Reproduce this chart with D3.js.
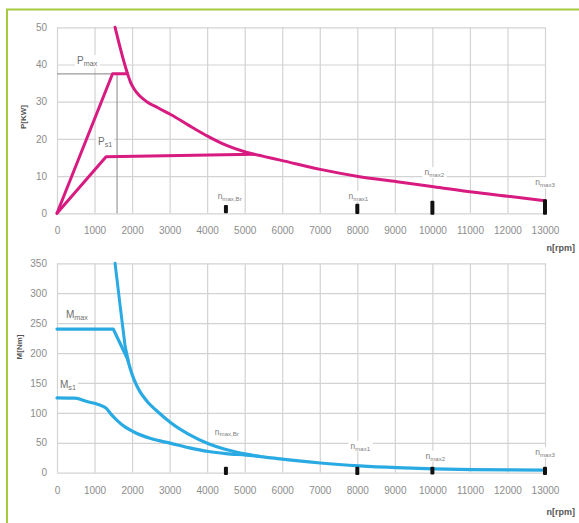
<!DOCTYPE html>
<html><head><meta charset="utf-8">
<script src="https://cdn.jsdelivr.net/npm/d3@7"></script>
<style>
html,body{margin:0;padding:0;background:#fff;}
svg{display:block;font-family:"Liberation Sans",Arial,sans-serif;}
</style></head>
<body><svg id="c" width="579" height="523"></svg>
<script>
// ---- data ----
const rpmTicks = [0,1000,2000,3000,4000,5000,6000,7000,8000,9000,10000,11000,12000,13000];
const pTicks = [0,10,20,30,40,50];
const mTicks = [0,50,100,150,200,250,300,350];

// power curves [rpm, kW]
const pMaxRise = [[0,0],[1480,37.5],[1880,37.5]];
const pEnvelope = [[1547,50],[1650,45.8],[1760,41.6],[1884,37.4],[1960,35.2],[2050,33.5],[2200,31.6],[2392,30],[2700,28.3],[3040,26.5],[3500,23.7],[4035,20.6],[4500,18.3],[5040,16.4],[5500,15.3],[5947,14.3],[7013,11.8],[8062,9.85],[9058,8.5],[10035,7.15],[11058,5.7],[12080,4.5],[13000,3.4]];
const pS1 = [[0,0],[1307,15.2],[5250,15.9]];
const pMaxBox = [[0,37.5],[1600,37.5],[1600,0]];

// torque curves [rpm, Nm]
const mMaxConst = [[0,240],[1500,240],[1880,190]];
const mMaxDecay = [[1880,190],[1960,172],[2050,156],[2213,135],[2392,120],[2700,101],[3040,83],[3500,64.5],[4035,48.5],[4500,38.8],[5040,31],[5947,23],[7013,16.2],[8062,11.5],[9058,8.5],[10035,6.5],[11058,5.2],[12080,4.6],[13000,4.3]];
const mSteep = [[1547,350],[1680,280],[1813,212],[1902,186]];
const mS1 = [[0,125],[480,124.5],[800,119],[1100,114],[1307,108],[1450,97],[1591,88],[1800,77],[2035,68.5],[2500,57],[3040,49],[3500,42],[4035,35.5],[4500,32],[5040,29.5],[5400,27.5]];

// speed markers
const markerRpm = [4500, 8000, 10000, 13000];
const markerSub = ["max,Br", "max1", "max2", "max3"];
const markerTopHi = [2.2, 2.6, 3.4, 3.8];
const markerTopLo = [0, -0.2, -0.4, -0.4];
const markerBotHi = [10, 10, 10, 10];
const markerBotLo = [-4, -4, -3, -4];
const markerLblTopRpm = [4600, 8030, 10050, 13000];
const markerLblTopP = [4.4, 4.4, 10.8, 8.1];
const markerLblBotRpm = [4525, 8080, 10080, 13000];
const markerLblBotM = [67, 43.5, 26.7, 33];

// ---- drawing ----
const svg = d3.select("#c");
const MAG = "#d81b80", CYAN = "#2aaae2", GRID = "#d3d3d3";

// frame
svg.append("line").attr("x1",6).attr("x2",579).attr("y1",9.5).attr("y2",9.5).attr("stroke","#a6c93e").attr("stroke-width",2);
svg.append("line").attr("x1",7).attr("x2",7).attr("y1",9).attr("y2",523).attr("stroke","#a6c93e").attr("stroke-width",2);

const x = d3.scaleLinear().domain([0,13000]).range([57,545]);
const yP = d3.scaleLinear().domain([0,50]).range([213.3,27.3]);
const yM = d3.scaleLinear().domain([0,350]).range([472.7,263.3]);

function grid(y, yTicks, yDomTop) {
  const g = svg.append("g");
  const plotW = x(13000) - x(0);
  const plotH = y(0) - y(yDomTop);
  const ax = g.append("g").attr("transform", `translate(0,${y(0)})`)
    .call(d3.axisBottom(x).tickValues(rpmTicks).tickSize(-plotH).tickPadding(14).tickFormat(d3.format("d")));
  const ay = g.append("g").attr("transform", `translate(${x(0)},0)`)
    .call(d3.axisLeft(y).tickValues(yTicks).tickSize(-plotW).tickPadding(10).tickFormat(d3.format("d")));
  [ax, ay].forEach(a => {
    a.select(".domain").remove();
    a.selectAll(".tick line").attr("stroke", GRID).attr("stroke-width", 1.2);
    a.selectAll(".tick text").attr("fill", "#8c8c8c").attr("font-size", 10);
  });
}
grid(yP, pTicks, 50);
grid(yM, mTicks, 350);

function line(y) { return d3.line().x(d => x(d[0])).y(d => y(d[1])); }

// Pmax box
svg.append("path").datum(pMaxBox).attr("d", line(yP)).attr("fill","none").attr("stroke","#9a9a9a").attr("stroke-width",1.2);

// annotated label helper
function label(px, py, main, sub, size, anchor, color) {
  const g = svg.append("g");
  const t = g.append("text").attr("x", px).attr("y", py).attr("fill", color || "#6e6e6e")
    .attr("font-size", size).attr("text-anchor", anchor || "start");
  t.append("tspan").text(main);
  t.append("tspan").attr("font-size", size * 0.72).attr("dy", size * 0.22).text(sub);
  const b = t.node().getBBox();
  g.insert("rect", "text").attr("x", b.x - 2).attr("y", b.y).attr("width", b.width + 4).attr("height", b.height).attr("fill", "#fff");
  return g;
}

function stroke(p, c, w) {
  return p.attr("fill","none").attr("stroke", c).attr("stroke-width", w).attr("stroke-linejoin","round").attr("stroke-linecap","round");
}
// power curves
stroke(svg.append("path").datum(pMaxRise).attr("d", line(yP)), MAG, 3);
stroke(svg.append("path").datum(pS1).attr("d", line(yP)), MAG, 3);
stroke(svg.append("path").datum(pEnvelope).attr("d", line(yP).curve(d3.curveMonotoneX)), MAG, 3);
// torque curves
stroke(svg.append("path").datum(mS1).attr("d", line(yM).curve(d3.curveMonotoneX)), CYAN, 3.2);
stroke(svg.append("path").datum(mMaxConst).attr("d", line(yM)), CYAN, 3.2);
stroke(svg.append("path").datum(mMaxDecay).attr("d", line(yM).curve(d3.curveMonotoneX)), CYAN, 3.2);
stroke(svg.append("path").datum(mSteep).attr("d", line(yM)), CYAN, 3);

// curve labels
label(77, 64, "P", "max", 10);
label(98, 145, "P", "s1", 10);
label(66, 318, "M", "max", 10);
label(60, 388, "M", "s1", 10);

// markers
markerRpm.forEach((r, i) => {
  svg.append("rect").attr("x", x(r) - 2).attr("width", 4)
    .attr("y", yP(markerTopHi[i])).attr("height", yP(markerTopLo[i]) - yP(markerTopHi[i]))
    .attr("rx", 1).attr("fill", "#111");
  svg.append("rect").attr("x", x(r) - 2).attr("width", 4)
    .attr("y", yM(markerBotHi[i])).attr("height", yM(markerBotLo[i]) - yM(markerBotHi[i]))
    .attr("rx", 1).attr("fill", "#111");
  label(x(markerLblTopRpm[i]), yP(markerLblTopP[i]) + 2, "n", markerSub[i], 8.5, "middle", "#808080");
  label(x(markerLblBotRpm[i]), yM(markerLblBotM[i]) + 2, "n", markerSub[i], 8.5, "middle", "#808080");
});

// axis titles
svg.append("text").attr("transform", "translate(26,117) rotate(-90)").attr("text-anchor","middle")
  .attr("font-size", 8).attr("font-weight","bold").attr("fill","#555").text("P[KW]");
svg.append("text").attr("transform", "translate(22,347) rotate(-90)").attr("text-anchor","middle")
  .attr("font-size", 8).attr("font-weight","bold").attr("fill","#555").text("M[Nm]");
svg.append("text").attr("x", 575).attr("y", 251).attr("text-anchor","end")
  .attr("font-size", 9).attr("font-weight","bold").attr("fill","#555").text("n[rpm]");
svg.append("text").attr("x", 575).attr("y", 515).attr("text-anchor","end")
  .attr("font-size", 9).attr("font-weight","bold").attr("fill","#555").text("n[rpm]");
</script></body></html>
